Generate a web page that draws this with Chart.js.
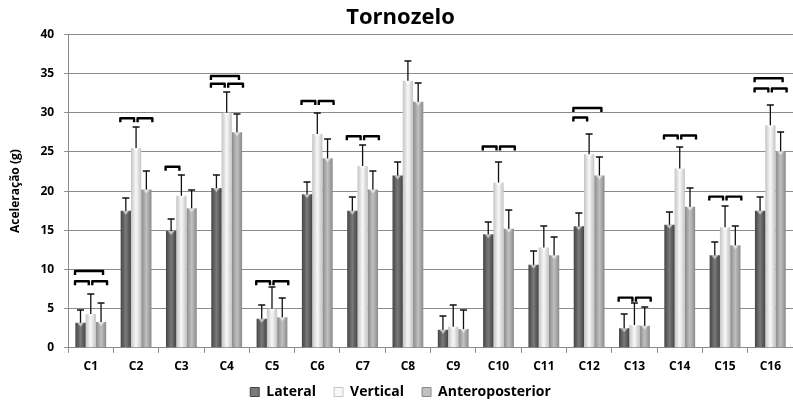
<!DOCTYPE html>
<html>
<head>
<meta charset="utf-8">
<script src="https://cdn.jsdelivr.net/npm/chart.js@4/dist/chart.umd.min.js"></script>
<style>
  html, body { margin: 0; padding: 0; background: #fff; }
  canvas { display: block; }
</style>
</head>
<body>
<canvas id="chart" width="793" height="401"></canvas>
<script>
// categorias e médias (g)
const categorias = ['C1', 'C2', 'C3', 'C4', 'C5', 'C6', 'C7', 'C8',
                    'C9', 'C10', 'C11', 'C12', 'C13', 'C14', 'C15', 'C16'];

const lateral = [3.2, 17.5, 14.9, 20.4, 3.7, 19.6, 17.5, 22.0,
                 2.3, 14.5, 10.6, 15.5, 2.5, 15.7, 11.8, 17.5];
const vertical = [4.3, 25.5, 19.4, 30.0, 5.0, 27.3, 23.2, 34.1,
                  2.7, 21.1, 12.8, 24.7, 2.9, 22.9, 15.4, 28.4];
const anteroposterior = [3.3, 20.2, 17.8, 27.5, 3.9, 24.2, 20.2, 31.4,
                         2.4, 15.2, 11.8, 22.0, 2.8, 18.0, 13.1, 25.1];

// topo das barras de erro (média + desvio)
const lateralErro = [4.8, 19.1, 16.5, 22.0, 5.5, 21.2, 19.2, 23.7,
                     4.0, 16.1, 12.4, 17.2, 4.3, 17.3, 13.5, 19.3];
const verticalErro = [6.9, 28.2, 22.0, 32.7, 7.7, 30.0, 25.9, 36.6,
                      5.4, 23.7, 15.5, 27.3, 5.7, 25.6, 18.1, 31.0];
const anteroposteriorErro = [5.7, 22.6, 20.2, 29.8, 6.3, 26.6, 22.6, 33.8,
                             4.8, 17.6, 14.2, 24.4, 5.2, 20.4, 15.5, 27.5];

// diferenças significativas: [categoria, série A, série B, altura (g)]
const chaves = [
  [0, 0, 1, 8.5], [0, 1, 2, 8.5], [0, 0, 2, 9.8],
  [1, 0, 1, 29.3], [1, 1, 2, 29.3],
  [2, 0, 1, 23.1],
  [3, 0, 1, 33.7], [3, 1, 2, 33.7], [3, 0, 2, 34.7],
  [4, 0, 1, 8.5], [4, 1, 2, 8.5],
  [5, 0, 1, 31.5], [5, 1, 2, 31.5],
  [6, 0, 1, 27.0], [6, 1, 2, 27.0],
  [9, 0, 1, 25.7], [9, 1, 2, 25.7],
  [11, 0, 1, 29.4], [11, 0, 2, 30.6],
  [12, 0, 1, 6.4], [12, 1, 2, 6.4],
  [13, 0, 1, 27.1], [13, 1, 2, 27.1],
  [14, 0, 1, 19.3], [14, 1, 2, 19.3],
  [15, 0, 1, 33.1], [15, 1, 2, 33.1], [15, 0, 2, 34.4]
];

const fonte = "'Open Sans', 'Liberation Sans', sans-serif";
const catPct = 0.68;

// cores: borda, centro
const tons = [
  ['#444444', '#7a7a7a'],
  ['#c4c4c4', '#f8f8f8'],
  ['#8a8a8a', '#c0c0c0']
];

function gradiente(ctx, di) {
  const chart = ctx.chart;
  const xs = chart.scales.x;
  if (!xs || !isFinite(xs.width) || !xs.width) return tons[di][0];
  const cat = xs.width / categorias.length;
  const w = cat * catPct / 3;
  const left = xs.getPixelForValue(ctx.dataIndex) - 1.5 * w + di * w;
  const g = chart.ctx.createLinearGradient(left, 0, left + w, 0);
  g.addColorStop(0, tons[di][0]);
  g.addColorStop(0.5, tons[di][1]);
  g.addColorStop(1, tons[di][0]);
  return g;
}

const erros = [lateralErro, verticalErro, anteroposteriorErro];

const barrasExtras = {
  id: 'barrasExtras',
  afterDatasetsDraw(chart) {
    const c = chart.ctx;
    const ys = chart.scales.y;
    c.save();
    // entalhe claro no topo de cada barra
    chart.data.datasets.forEach((ds, di) => {
      chart.getDatasetMeta(di).data.forEach((el) => {
        c.fillStyle = 'rgba(255,255,255,0.55)';
        c.beginPath();
        c.moveTo(el.x - 3.5, el.y);
        c.lineTo(el.x + 3.5, el.y);
        c.lineTo(el.x, el.y + 4);
        c.closePath();
        c.fill();
      });
    });
    // barras de erro
    c.strokeStyle = '#111';
    c.lineWidth = 1.3;
    chart.data.datasets.forEach((ds, di) => {
      chart.getDatasetMeta(di).data.forEach((el, i) => {
        const top = Math.round(ys.getPixelForValue(erros[di][i]));
        c.beginPath();
        c.moveTo(el.x, el.y);
        c.lineTo(el.x, top);
        c.moveTo(el.x - 3.5, top);
        c.lineTo(el.x + 3.5, top);
        c.stroke();
      });
    });
    // chaves de significância
    c.lineWidth = 2.4;
    c.lineJoin = 'round';
    c.strokeStyle = '#000';
    chaves.forEach(([cat, a, b, v]) => {
      const xa = chart.getDatasetMeta(a).data[cat].x;
      const xb = chart.getDatasetMeta(b).data[cat].x;
      const x1 = xa + (a === 0 ? -5.5 : 1.5);
      const x2 = xb + (b === 1 ? -2 : (a === 0 ? 2 : 6));
      const y = ys.getPixelForValue(v);
      c.beginPath();
      c.moveTo(x1, y + 4);
      c.lineTo(x1, y);
      c.lineTo(x2, y);
      c.lineTo(x2, y + 4);
      c.stroke();
    });
    c.restore();
  }
};

new Chart(document.getElementById('chart'), {
  type: 'bar',
  data: {
    labels: categorias,
    datasets: [
      { label: 'Lateral', data: lateral, backgroundColor: (ctx) => gradiente(ctx, 0) },
      { label: 'Vertical', data: vertical, backgroundColor: (ctx) => gradiente(ctx, 1) },
      { label: 'Anteroposterior', data: anteroposterior, backgroundColor: (ctx) => gradiente(ctx, 2) }
    ]
  },
  options: {
    responsive: false,
    animation: false,
    devicePixelRatio: 1,
    layout: { padding: { left: 8, right: 0, top: 0, bottom: -8 } },
    datasets: {
      bar: { categoryPercentage: catPct, barPercentage: 1.0, borderWidth: 0 }
    },
    plugins: {
      title: {
        display: true,
        text: 'Tornozelo',
        color: '#000',
        font: { family: fonte, size: 22, weight: 'bold' },
        padding: { top: 5, bottom: 3 }
      },
      legend: {
        position: 'bottom',
        labels: {
          boxWidth: 9,
          boxHeight: 9,
          color: '#000',
          padding: 4,
          font: { family: fonte, size: 14, weight: 'bold', lineHeight: 1 },
          // espaço extra entre os itens da legenda
          generateLabels: (chart) => chart.data.datasets.map((ds, i, all) => ({
            text: i < all.length - 1 ? ds.label + '\u2003' : ds.label,
            fillStyle: tons[i][1],
            strokeStyle: tons[i][0],
            lineWidth: 1,
            datasetIndex: i
          }))
        }
      },
      tooltip: { enabled: false }
    },
    scales: {
      x: {
        grid: { drawOnChartArea: false, drawTicks: true, tickLength: 5, color: '#8c8c8c' },
        border: { color: '#8c8c8c' },
        ticks: { color: '#000', font: { family: fonte, size: 12, weight: 'bold', lineHeight: 1.85 }, padding: 3 }
      },
      y: {
        min: 0,
        max: 40,
        ticks: { stepSize: 5, color: '#000', font: { family: fonte, size: 12, weight: 'bold' }, padding: 10 },
        grid: { color: '#8c8c8c', drawTicks: true, tickLength: 4 },
        border: { color: '#8c8c8c' },
        title: {
          display: true,
          text: 'Aceleração (g)',
          color: '#000',
          font: { family: fonte, size: 12, weight: 'bold' },
          padding: { top: 0, bottom: 8 }
        }
      }
    }
  },
  plugins: [barrasExtras]
});
</script>
</body>
</html>
